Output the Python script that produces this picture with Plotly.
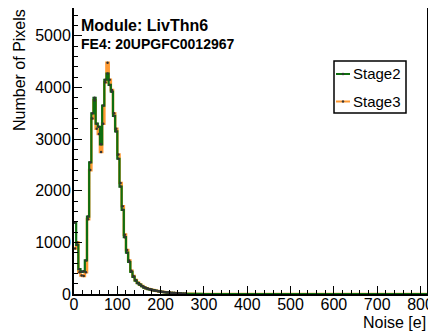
import plotly.graph_objects as go

# ---- data (bin width 5 e, starting at 0) ----
bin_width = 5
x_max = 815
stage2 = [1380, 950, 480, 430, 440, 650, 1500, 2550, 3500, 3800,
          3300, 3240, 2900, 3650, 4150, 4270, 4050, 3920, 3450, 3150,
          2620, 2080, 1630, 1100, 800, 620, 430, 330, 260, 210,
          180, 150, 125, 110, 95, 85, 75, 65, 58, 50,
          44, 38, 33, 28, 24, 20, 17, 14, 11, 9,
          7, 5, 4, 3, 2, 2, 1, 1, 1, 0]
stage3 = [880, 1000, 420, 360, 350, 420, 1450, 2400, 3400, 3750,
          3200, 3100, 2750, 3300, 4100, 4480, 4150, 3950, 3500, 3200,
          2700, 2150, 1700, 1150, 850, 650, 450, 350, 270, 220,
          185, 155, 130, 112, 97, 86, 76, 66, 58, 50,
          44, 38, 33, 28, 24, 20, 17, 14, 11, 9,
          7, 5, 4, 3, 2, 2, 1, 1, 1, 0]
series_names = ["Stage2", "Stage3"]
series_colors = ["#0f6e0f", "#ff9a33"]
x_ticks = [0, 100, 200, 300, 400, 500, 600, 700, 800]
y_ticks = [0, 1000, 2000, 3000, 4000, 5000]
title_lines = ["Module: LivThn6", "FE4: 20UPGFC0012967"]

n_bins = x_max // bin_width + 1


def pad(v):
    return list(v) + [0] * (n_bins - len(v))


edges = [i * bin_width for i in range(n_bins + 1)]
centers = [(i + 0.5) * bin_width for i in range(n_bins)]

FONT = "Liberation Sans, Arial, sans-serif"
fig = go.Figure()

# draw Stage3 under Stage2
for name, vals, col, w in [(series_names[1], stage3, series_colors[1], 2.6),
                           (series_names[0], stage2, series_colors[0], 2.2)]:
    v = pad(vals)
    fig.add_trace(go.Scatter(x=edges, y=v + [v[-1]], mode="lines",
                             line=dict(color=col, width=w, shape="hv"),
                             showlegend=False, hoverinfo="skip"))
for vals in [stage3, stage2]:
    nz = [(c, y) for c, y in zip(centers, pad(vals)) if c < 260]
    fig.add_trace(go.Scatter(x=[c for c, _ in nz], y=[y for _, y in nz], mode="markers",
                             marker=dict(color="#333333", size=2.5),
                             showlegend=False, hoverinfo="skip"))

# page has an 8px body margin: figure is drawn offset by (8, 8)
OFF = 8
SW, SH = 436, 331           # screen size
L, R, T, B = 74, 427, 8, 294  # plot frame in screen pixels
W, H = SW - OFF, SH - OFF
pw, ph = R - L, B - T


def px(x):
    return (x - L) / pw


def py(y):
    return (B - y) / ph


shapes = []
annotations = []
# legend box
shapes.append(dict(type="rect", xref="paper", yref="paper",
                   x0=px(334), x1=px(406), y0=py(113), y1=py(61),
                   line=dict(color="black", width=1.5), fillcolor="white", layer="above"))
for i, (name, col) in enumerate(zip(series_names, series_colors)):
    yy = py(74 + i * 27.5)
    shapes.append(dict(type="line", xref="paper", yref="paper",
                       x0=px(336), x1=px(350), y0=yy, y1=yy,
                       line=dict(color=col, width=2), layer="above"))
    shapes.append(dict(type="circle", xref="paper", yref="paper",
                       x0=px(342), x1=px(344), y0=yy - 1 / ph, y1=yy + 1 / ph,
                       line=dict(color="#333333", width=0.5), fillcolor="#333333", layer="above"))
    annotations.append(dict(text=name, xref="paper", yref="paper", x=px(351), y=yy,
                            xanchor="left", yanchor="middle", showarrow=False,
                            font=dict(family=FONT, size=15, color="black")))

annotations.append(dict(text="<b>%s</b>" % title_lines[0], xref="paper", yref="paper",
                        x=px(79), y=py(25), xanchor="left", yanchor="middle", showarrow=False,
                        font=dict(family=FONT, size=16, color="black")))
annotations.append(dict(text="<b>%s</b>" % title_lines[1], xref="paper", yref="paper",
                        x=px(79), y=py(44), xanchor="left", yanchor="middle", showarrow=False,
                        font=dict(family=FONT, size=14, color="black")))
annotations.append(dict(text="Noise [e]", xref="paper", yref="paper",
                        x=px(428), y=py(322), xanchor="right", yanchor="middle", showarrow=False,
                        font=dict(family=FONT, size=16, color="black")))
annotations.append(dict(text="Number of Pixels", xref="paper", yref="paper",
                        x=px(20), y=py(70), xanchor="center", yanchor="middle", showarrow=False,
                        textangle=-90, font=dict(family=FONT, size=16, color="black")))

axis_common = dict(showgrid=False, zeroline=False, showline=True, linecolor="black",
                   linewidth=2, mirror=True, ticks="inside", ticklen=8, tickwidth=1,
                   tickcolor="black", tickfont=dict(family=FONT, size=16, color="black"))

fig.update_layout(
    width=W, height=H,
    margin=dict(l=L - OFF, r=SW - R, t=T - OFF, b=SH - B, pad=0),
    plot_bgcolor="white", paper_bgcolor="white",
    showlegend=False,
    shapes=shapes, annotations=annotations,
    xaxis=dict(range=[0, x_max], tickvals=x_ticks, ticktext=[str(t) for t in x_ticks],
               minor=dict(dtick=20, ticks="inside", ticklen=4, tickcolor="black"),
               ticklabelstandoff=-5, automargin=False, **axis_common),
    yaxis=dict(range=[0, 5540], tickvals=y_ticks, ticktext=[str(t) for t in y_ticks],
               minor=dict(dtick=200, ticks="inside", ticklen=4, tickcolor="black"),
               ticklabelstandoff=-2, automargin=False, **axis_common),
)

fig.write_html("out.html")
